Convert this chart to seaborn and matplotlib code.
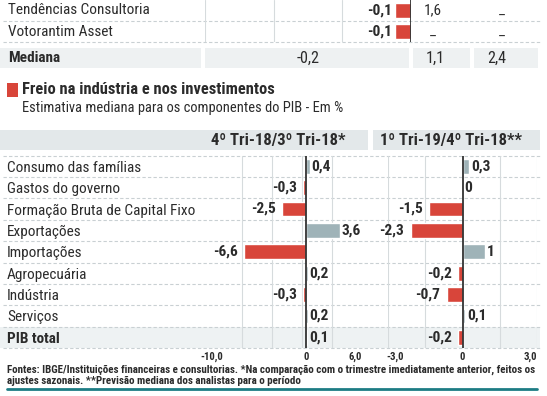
import numpy as np
import pandas as pd
import seaborn as sns
import matplotlib.pyplot as plt
from matplotlib import font_manager
from matplotlib.patches import Rectangle

# --- data ---
top_names = ['Tendências Consultoria', 'Votorantim Asset']
top_q = [-0.1, -0.1]
top_col2 = ['1,6', '_']
top_col3 = ['_', '_']
median_vals = ['-0,2', '1,1', '2,4']

components = ['Consumo das famílias', 'Gastos do governo', 'Formação Bruta de Capital Fixo',
              'Exportações', 'Importações', 'Agropecuária', 'Indústria', 'Serviços', 'PIB total']
q4_vals = [0.4, -0.3, -2.5, 3.6, -6.6, 0.2, -0.3, 0.2, 0.1]
q1_vals = [0.3, 0.0, -1.5, -2.3, 1.0, -0.2, -0.7, 0.1, -0.2]
q4_ticks = [-10, 0, 6]
q4_ticklabels = ['-10,0', '0', '6,0']
q1_ticks = [-3, 0, 3]
q1_ticklabels = ['-3,0', '0', '3,0']

sns.set_style('white')
installed = {f.name for f in font_manager.fontManager.ttflist}
fams = [f for f in ['Liberation Sans Narrow', 'Roboto Condensed', 'Liberation Sans'] if f in installed]
plt.rcParams['font.family'] = fams[:1] + ['DejaVu Sans']

RED = '#d8453a'
GREY = '#9fb3b8'
TXT = '#2b2b2b'
W, H = 547, 396

fig = plt.figure(figsize=(W / 100, H / 100), dpi=100)
rend = fig.canvas.get_renderer()


def fit(s, target, weight='normal'):
    # font size (pt) that makes string s about target px wide
    t = fig.text(0, 0, s, fontsize=10, fontweight=weight)
    w = t.get_window_extent(renderer=rend).width
    t.remove()
    return 10 * target / w


FS_ROW = fit('Consumo das famílias', 134)
FS_TITLE = fit('Freio na indústria e nos investimentos', 252, 'bold')
FS_SUB = fit('Estimativa mediana para os componentes do PIB - Em %', 320)
FS_HEAD = fit('4º Tri-18/3º Tri-18*', 136, 'bold')
FS_VAL = fit('-6,6', 25, 'bold')
FS_TICK = fit('-10,0', 23, 'bold')
FS_MED = fit('-0,2', 23)
FOOT1 = ('Fontes: IBGE/Instituições financeiras e consultorias. *Na comparação com o '
         'trimestre imediatamente anterior, feitos os')
FS_FOOT = fit(FOOT1, 530, 'bold')


def rect(x0, y0, x1, y1):
    return [x0 / W, 1 - y1 / H, (x1 - x0) / W, (y1 - y0) / H]


# background layer in pixel coordinates
bg = fig.add_axes([0, 0, 1, 1], zorder=0)
bg.set_xlim(0, W)
bg.set_ylim(H, 0)
bg.axis('off')


def fmt(v):
    return f'{v:g}'.replace('.', ',')


def dashed(y, x0=3, x1=540):
    bg.plot([x0, x1], [y, y], color='#c9d0d3', lw=0.8, ls=(0, (3, 2)))


# ---- top (cropped table) ----
for y in [20.5, 42]:
    dashed(y)
for i, name in enumerate(top_names):
    yc = 10.5 + 21 * i
    bg.text(8, yc, name, fontsize=FS_ROW, color=TXT, va='center')
    bg.text(433, yc, top_col2[i], fontsize=FS_ROW, color=TXT, va='center', ha='center')
    bg.text(502, yc, top_col3[i], fontsize=FS_ROW, color=TXT, va='center', ha='center')

for seg in [(0, 201), (205, 409), (413, 470), (474, 538)]:
    bg.add_patch(Rectangle((seg[0], 48), seg[1] - seg[0], 20, color='#eef1f2', lw=0))
bg.text(8, 58, 'Mediana', fontsize=FS_ROW, fontweight='bold', color=TXT, va='center')
for xc, s in zip([308, 435, 497], median_vals):
    bg.text(xc, 58, s, fontsize=FS_MED, color=TXT, va='center', ha='center')

top_df = pd.DataFrame({'nome': top_names, 'valor': top_q})
axt = fig.add_axes(rect(205, 0, 411, 42), zorder=1)
axt.patch.set_alpha(0)
sns.barplot(data=top_df, x='valor', y='nome', color=RED, width=0.76, saturation=1, ax=axt)
axt.set_xlim(-1.3, 0)
axt.set_xticks(np.linspace(-1.3, 0, 4), minor=True)
axt.grid(which='minor', axis='x', color='#d6dbdd', lw=0.8)
axt.axvline(0, color='#333333', lw=1.3)
for i, v in enumerate(top_q):
    axt.annotate(fmt(v), (v, i), xytext=(-2, 0), textcoords='offset points',
                 ha='right', va='center', fontsize=FS_VAL, fontweight='bold', color=TXT)
axt.set_xticks([])
axt.set_yticks([])
axt.set_xlabel('')
axt.set_ylabel('')
sns.despine(ax=axt, left=True, bottom=True)

# ---- title ----
bg.add_patch(Rectangle((7, 83), 11, 14, color=RED, lw=0))
bg.text(22, 89, 'Freio na indústria e nos investimentos', fontsize=FS_TITLE, fontweight='bold',
        color=TXT, va='center')
bg.text(22, 108, 'Estimativa mediana para os componentes do PIB - Em %', fontsize=FS_SUB,
        color=TXT, va='center')

# ---- header bands ----
bg.add_patch(Rectangle((0, 130), 368, 20, color='#e3e8ea', lw=0))
bg.add_patch(Rectangle((373, 130), 167, 20, color='#e3e8ea', lw=0))
bg.text(278, 140, '4º Tri-18/3º Tri-18*', fontsize=FS_HEAD, fontweight='bold', color=TXT,
        ha='center', va='center')
bg.text(451, 140, '1º Tri-19/4º Tri-18**', fontsize=FS_HEAD, fontweight='bold', color=TXT,
        ha='center', va='center')

# ---- main charts ----
Y0, RH = 155.5, 21.4
n = len(components)
bg.add_patch(Rectangle((0, Y0 + 8 * RH), 540, RH, color='#eef2f3', lw=0))
for k in range(n + 1):
    dashed(Y0 + k * RH)

df = pd.DataFrame({'comp': components, 'q4': q4_vals, 'q1': q1_vals})
df['s4'] = np.where(df['q4'] < 0, 'neg', 'pos')
df['s1'] = np.where(df['q1'] < 0, 'neg', 'pos')
pal = {'neg': RED, 'pos': GREY}


def panel(box, col, scol, xlim, gridn, ticks, ticklabels, show_labels):
    ax = fig.add_axes(rect(*box), zorder=1)
    ax.patch.set_alpha(0)
    sns.barplot(data=df, x=col, y='comp', hue=scol, palette=pal, dodge=False, width=0.7,
                saturation=1, legend=False, ax=ax)
    ax.set_xlim(*xlim)
    ax.set_xticks(np.linspace(xlim[0], xlim[1], gridn), minor=True)
    ax.grid(which='minor', axis='x', color='#d6dbdd', lw=0.8)
    ax.axvline(0, color='#333333', lw=1.3)
    for i, v in enumerate(df[col]):
        if v < 0:
            ax.annotate(fmt(v), (v, i), xytext=(-4.5, 0), textcoords='offset points',
                        ha='right', va='center', fontsize=FS_VAL, fontweight='bold', color=TXT)
        else:
            ax.annotate(fmt(v), (v, i), xytext=(1.5, 0), textcoords='offset points',
                        ha='left', va='center', fontsize=FS_VAL, fontweight='bold', color=TXT)
    ax.set_xticks(ticks)
    ax.set_xticklabels(ticklabels, fontsize=FS_TICK, fontweight='bold', color=TXT)
    ax.tick_params(axis='both', which='both', length=0)
    ax.tick_params(axis='x', pad=2.5)
    if show_labels:
        ax.tick_params(axis='y', pad=(box[0] - 7) * 0.72)
        for t in ax.get_yticklabels():
            t.set_ha('left')
            t.set_fontsize(FS_ROW)
            t.set_color(TXT)
        ax.get_yticklabels()[-1].set_fontweight('bold')
    else:
        ax.set_yticklabels([])
    ax.set_xlabel('')
    ax.set_ylabel('')
    sns.despine(ax=ax, left=True, bottom=True)
    return ax


axl = panel((212, Y0, 362, Y0 + n * RH), 'q4', 's4', (-10, 6), 6, q4_ticks, q4_ticklabels, True)
axl.get_xticklabels()[-1].set_ha('right')
axr = panel((388, Y0, 537, Y0 + n * RH), 'q1', 's1', (-3.3, 3.3), 5, q1_ticks, q1_ticklabels, False)

# ---- footer ----
bg.text(7, 370, FOOT1, fontsize=FS_FOOT, fontweight='bold', color=TXT, va='center')
bg.text(7, 381, 'ajustes sazonais. **Previsão mediana dos analistas para o período',
        fontsize=FS_FOOT, fontweight='bold', color=TXT, va='center')
bg.plot([7, 537], [389, 389], color='#1d7c84', lw=2)

fig.savefig('out.png', dpi=100)
